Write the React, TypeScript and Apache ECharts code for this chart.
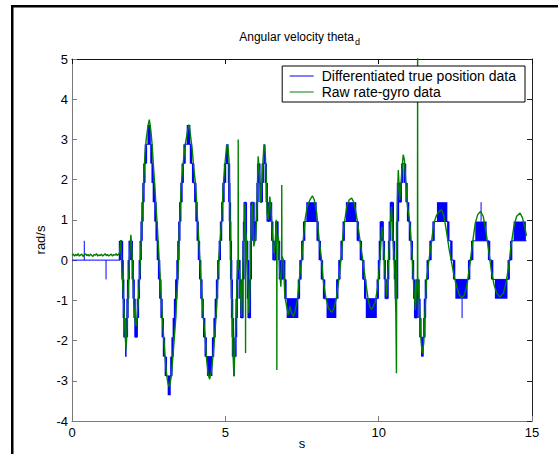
import React, { useEffect, useRef } from "react";
import * as echarts from "echarts";

// ---------- data ----------
const xTickValues = [0, 5, 10, 15];
const yTickValues = [-4, -3, -2, -1, 0, 1, 2, 3, 4, 5];
const titleMain = "Angular velocity theta";
const titleSub = "d";
const xName = "s";
const yName = "rad/s";
const seriesNames = ["Differentiated true position data", "Raw rate-gyro data"];

// Blue: quantized staircase, [time, level] — level holds until next time
const blueSteps: number[][] = [
  [0, 0], [1.565, 0.48], [1.63, 0], [1.65, -0.48], [1.67, -0.96], [1.69, -1.44], [1.71, -1.92],
  [1.79, -1.44], [1.81, -0.96], [1.83, -0.48], [1.85, 0], [1.88, 0.48], [1.95, 0], [1.98, -0.48],
  [2.01, -0.96], [2.04, -1.44], [2.07, -1.92], [2.11, -1.44], [2.15, -0.96], [2.18, -0.48], [2.21, 0],
  [2.24, 0.48], [2.27, 0.96], [2.3, 1.44], [2.33, 1.92], [2.36, 2.4], [2.41, 2.88],
  [2.59, 2.4], [2.63, 1.92], [2.67, 1.44], [2.72, 0.96], [2.76, 0.48], [2.8, 0], [2.84, -0.48],
  [2.88, -0.96], [2.92, -1.44], [2.96, -1.92], [3.0, -2.4], [3.06, -2.88],
  [3.24, -2.4], [3.28, -1.92], [3.32, -1.44], [3.36, -0.96], [3.4, -0.48], [3.44, 0], [3.47, 0.48],
  [3.5, 0.96], [3.53, 1.44], [3.57, 1.92], [3.61, 2.4], [3.67, 2.88],
  [3.88, 2.4], [3.95, 1.92], [4.02, 1.44], [4.06, 0.96], [4.1, 0.48], [4.14, 0], [4.18, -0.48],
  [4.22, -0.96], [4.26, -1.44], [4.31, -1.92], [4.36, -2.4],
  [4.6, -1.92], [4.65, -1.44], [4.69, -0.96], [4.73, -0.48], [4.77, 0], [4.82, 0.48], [4.86, 0.96],
  [4.9, 1.44], [4.94, 1.92], [4.99, 2.4],
  [5.12, 1.92], [5.13, 1.44], [5.15, 0.96], [5.16, 0.48], [5.18, 0], [5.19, -0.48], [5.21, -0.96],
  [5.22, -1.44], [5.24, -1.92], [5.25, -2.4],
  [5.33, -1.92], [5.35, -1.44], [5.37, -0.96], [5.39, -0.48], [5.41, 0],
  [5.46, -0.48], [5.49, -0.96], [5.52, -1.44], [5.56, -0.48], [5.59, 0.48], [5.61, 0.96], [5.63, 1.44],
  [5.67, 0.48], [5.71, 0], [5.74, -0.96], [5.76, -1.44], [5.8, -0.48], [5.83, 0.48], [5.85, 1.44],
  [5.92, 0.48], [5.98, 0.96], [6.03, 1.44], [6.05, 1.92], [6.07, 2.4], [6.11, 1.92], [6.15, 1.44],
  [6.19, 1.92], [6.22, 2.4], [6.32, 1.92], [6.35, 1.44], [6.38, 0.96], [6.44, 1.44], [6.49, 0.96],
  [6.53, 0.48], [6.57, 0], [6.64, 0.48], [6.66, 0.96], [6.7, 0.48], [6.75, 0], [6.78, -0.48],
  [6.86, 0], [6.92, -0.48], [6.96, -0.96],
  [7.4, -0.48], [7.45, 0], [7.51, 0.48], [7.57, 0.96],
  [8.01, 0.48], [8.08, 0], [8.15, -0.48], [8.22, -0.96],
  [8.65, -0.48], [8.72, 0], [8.79, 0.48], [8.86, 0.96],
  [9.32, 0.48], [9.42, 0], [9.5, -0.48], [9.56, -0.96],
  [9.97, -0.48], [10.01, 0], [10.04, 0.48], [10.07, 0.96], [10.13, 0.48], [10.17, 0], [10.2, -0.48],
  [10.23, -0.96], [10.29, -0.48], [10.31, 0], [10.34, 0.48], [10.36, 0.96], [10.4, 1.44], [10.46, 0.48],
  [10.5, 0], [10.53, -0.48], [10.56, -0.96], [10.6, 0.96], [10.63, 1.92], [10.68, 1.44], [10.72, 1.92],
  [10.77, 2.4], [10.86, 1.92], [10.91, 1.44], [10.96, 0.96], [11.02, 0.48], [11.08, 0], [11.12, -0.48],
  [11.16, -0.96], [11.19, -1.44], [11.24, -0.48], [11.3, -0.96], [11.33, -1.44], [11.36, -1.92],
  [11.49, -1.44], [11.51, -0.96], [11.54, -0.48], [11.6, 0], [11.69, 0.48], [11.79, 0.96],
  [12.27, 0.48], [12.37, 0], [12.46, -0.48],
  [12.95, 0], [13.05, 0.48],
  [13.6, 0], [13.7, -0.48],
  [14.24, 0], [14.32, 0.48],
];
const blueEnd = 14.82;

// Blue dithering blocks: [t start, t end, low level, high level]
const blueBlocks: number[][] = [
  [1.73, 1.78, -2.4, -1.92], [2.46, 2.57, 2.88, 3.36], [3.12, 3.22, -3.36, -2.88],
  [3.74, 3.86, 2.88, 3.36], [4.4, 4.58, -2.88, -2.4], [5.02, 5.1, 2.4, 2.88],
  [5.26, 5.31, -2.88, -2.4], [6.24, 6.3, 2.4, 2.88],
  [7.0, 7.38, -1.44, -0.96], [7.64, 7.98, 0.96, 1.44], [8.3, 8.62, -1.44, -0.96],
  [8.93, 9.27, 0.96, 1.44], [9.58, 9.94, -1.44, -0.96], [11.38, 11.47, -2.4, -1.92],
  [11.9, 12.24, 0.96, 1.44], [12.5, 12.9, -0.96, -0.48], [13.15, 13.52, 0.48, 0.96],
  [13.79, 14.2, -0.96, -0.48], [14.4, 14.8, 0.48, 0.96],
];

// Blue single-sample spikes: [time, from, to]
const blueSpikes: number[][] = [
  [0.4, 0, 0.48], [1.11, 0, -0.48], [12.72, -0.96, -1.44], [13.34, 0.96, 1.44],
];

// Green: rate-gyro signal [time, rad/s]
const greenPts: number[][] = [
  [0, 0.12], [0.04, 0.15], [0.08, 0.1], [0.12, 0.14], [0.16, 0.11], [0.2, 0.16], [0.24, 0.1],
  [0.28, 0.13], [0.32, 0.15], [0.36, 0.09], [0.4, 0.13], [0.44, 0.16], [0.48, 0.11], [0.52, 0.14],
  [0.56, 0.1], [0.6, 0.15], [0.64, 0.12], [0.68, 0.09], [0.72, 0.14], [0.76, 0.12], [0.8, 0.16],
  [0.84, 0.1], [0.88, 0.13], [0.92, 0.11], [0.96, 0.15], [1.0, 0.1], [1.04, 0.13], [1.08, 0.16],
  [1.12, 0.11], [1.16, 0.14], [1.2, 0.1], [1.24, 0.13], [1.28, 0.15], [1.32, 0.1], [1.36, 0.14],
  [1.4, 0.12], [1.44, 0.16], [1.48, 0.11], [1.52, 0.15], [1.55, 0.17],
  [1.59, 0.5], [1.63, -0.3], [1.67, -0.82], [1.71, -1.5], [1.73, -1.82], [1.76, -2.23], [1.78, -2.0],
  [1.8, -1.49], [1.84, -0.6], [1.87, 0.0], [1.92, 0.63], [1.95, 0.3], [1.97, 0.0], [2.0, -0.7],
  [2.02, -1.15], [2.06, -1.5], [2.09, -1.65], [2.13, -1.32], [2.17, -0.9], [2.2, -0.49], [2.24, 0.2],
  [2.27, 0.75], [2.3, 1.3], [2.33, 1.83], [2.38, 2.66], [2.42, 3.0], [2.46, 3.24], [2.5, 3.42],
  [2.52, 3.49], [2.55, 3.35], [2.58, 3.16], [2.62, 2.8], [2.65, 2.41], [2.7, 1.85], [2.74, 1.33],
  [2.79, 0.75], [2.83, 0.17], [2.87, -0.35], [2.9, -0.82], [2.94, -1.35], [2.98, -1.82], [3.02, -2.25],
  [3.05, -2.56], [3.08, -2.8], [3.11, -2.98], [3.14, -3.1], [3.17, -3.14], [3.2, -3.05], [3.24, -2.89],
  [3.27, -2.6], [3.3, -2.31], [3.34, -1.9], [3.38, -1.49], [3.41, -1.0], [3.45, -0.49], [3.48, 0.15],
  [3.5, 0.75], [3.53, 1.3], [3.56, 1.83], [3.61, 2.3], [3.65, 2.58], [3.7, 2.9], [3.74, 3.08],
  [3.78, 3.28], [3.81, 3.37], [3.84, 3.25], [3.88, 3.0], [3.92, 2.75], [3.97, 2.3], [4.02, 1.95],
  [4.06, 1.5], [4.09, 1.05], [4.12, 0.7], [4.17, 0.01], [4.23, -0.82], [4.28, -1.4], [4.34, -1.9],
  [4.39, -2.48], [4.44, -2.85], [4.49, -2.96], [4.55, -2.73], [4.61, -2.31], [4.66, -1.82],
  [4.72, -1.15], [4.77, -0.16], [4.83, 0.5], [4.88, 1.0], [4.93, 1.83], [4.99, 2.41], [5.04, 2.83],
  [5.08, 2.87], [5.12, 2.49], [5.15, 1.17], [5.18, 0.01], [5.22, -1.32], [5.25, -2.31], [5.28, -2.89],
  [5.31, -2.31], [5.36, -1.15], [5.4, 0.01], [5.415, -0.1], [5.42, 3.0], [5.425, -0.2], [5.46, -0.24],
  [5.5, -0.82], [5.53, -1.4], [5.56, -0.49], [5.61, 0.75], [5.64, 1.42], [5.655, 0.9], [5.66, -2.31],
  [5.665, 0.7], [5.69, 0.5], [5.72, -0.24], [5.77, -1.32], [5.81, -0.49], [5.86, 1.33], [5.89, 1.42],
  [5.93, 0.34], [5.99, 0.59], [6.03, 1.25], [6.07, 2.58], [6.12, 2.08], [6.16, 1.42], [6.21, 2.25],
  [6.25, 2.74], [6.29, 2.87], [6.33, 2.16], [6.36, 1.17], [6.4, 1.0], [6.45, 1.58], [6.49, 1.25],
  [6.53, 0.75], [6.58, 0.17], [6.62, 0.34], [6.66, 1.0], [6.675, 0.6], [6.68, -2.73], [6.685, 0.5],
  [6.73, 0.59], [6.77, -0.24], [6.81, -0.66], [6.835, -0.3], [6.84, 1.87], [6.845, 0.1], [6.89, 0.01],
  [6.94, -0.9], [7.0, -1.15], [7.05, -1.36], [7.11, -1.15], [7.16, -1.32], [7.22, -1.4], [7.27, -1.28],
  [7.35, -0.99], [7.41, -0.49], [7.49, 0.01], [7.54, 0.5], [7.6, 1.0], [7.67, 1.33], [7.76, 1.5],
  [7.84, 1.6], [7.9, 1.5], [7.98, 1.17], [8.06, 0.5], [8.14, 0.01], [8.19, -0.49], [8.27, -0.9],
  [8.36, -1.19], [8.47, -1.3], [8.55, -1.19], [8.63, -0.9], [8.7, -0.49], [8.77, 0.01], [8.85, 0.75],
  [8.96, 1.33], [9.04, 1.5], [9.12, 1.54], [9.2, 1.42], [9.3, 1.0], [9.39, 0.5], [9.48, 0.01],
  [9.58, -0.55], [9.66, -1.0], [9.72, -1.18], [9.77, -1.22], [9.83, -1.15], [9.88, -1.07], [9.97, -0.66],
  [10.04, 0.0], [10.1, 0.83], [10.15, 0.5], [10.21, -0.33], [10.26, -0.91], [10.31, -0.16], [10.37, 0.83],
  [10.42, 1.33], [10.48, 0.34], [10.53, -0.33], [10.56, -1.32], [10.58, -2.81], [10.59, 0.5],
  [10.61, 1.5], [10.64, 2.24], [10.69, 1.5], [10.75, 2.16], [10.8, 2.62], [10.84, 2.49], [10.88, 1.99],
  [10.94, 1.33], [10.99, 1.08], [11.04, 0.67], [11.1, 0.0], [11.15, -0.74], [11.2, -1.24], [11.25, -0.49],
  [11.265, -0.6], [11.27, 5.5], [11.275, -0.4], [11.29, -0.41], [11.34, -1.32], [11.38, -1.99],
  [11.42, -2.32], [11.47, -2.07], [11.51, -1.32], [11.56, -0.49], [11.64, 0.0], [11.73, 0.5],
  [11.8, 0.92], [11.89, 1.12], [11.98, 1.22], [12.05, 1.25], [12.13, 1.09], [12.22, 0.67], [12.3, 0.26],
  [12.38, -0.07], [12.46, -0.4], [12.54, -0.65], [12.63, -0.86], [12.72, -0.94], [12.8, -0.86],
  [12.89, -0.57], [12.98, -0.07], [13.06, 0.42], [13.15, 0.92], [13.23, 1.13], [13.32, 1.21],
  [13.41, 1.09], [13.5, 0.71], [13.59, 0.22], [13.67, -0.24], [13.76, -0.61], [13.85, -0.82],
  [13.96, -0.92], [14.07, -0.82], [14.15, -0.57], [14.24, -0.16], [14.32, 0.38], [14.41, 0.84],
  [14.5, 1.09], [14.61, 1.17], [14.69, 1.05], [14.78, 0.76], [14.82, 0.6],
];

const FONT = "'Liberation Sans', Arial, sans-serif";
const BLUE = "#0000ff";
const GREEN = "#008000";

export default function App() {
  const ref = useRef<HTMLDivElement>(null);

  useEffect(() => {
    if (!ref.current) return;
    const chart = echarts.init(ref.current, undefined, { renderer: "svg" });

    const stepSegments = blueSteps.map((p, i) => {
      const next = blueSteps[i + 1];
      return next ? [p[0], next[0], p[1], next[1]] : [p[0], blueEnd, p[1], p[1]];
    });

    const option: any = {
      animation: false,
      backgroundColor: "#ffffff",
      textStyle: { fontFamily: FONT },
      grid: { left: 72, right: 26, top: 59, bottom: 33, containLabel: false, outerBoundsMode: "none" },
      xAxis: [
        {
          type: "value",
          position: "bottom",
          min: xTickValues[0],
          max: xTickValues[xTickValues.length - 1],
          interval: 5,
          splitLine: { show: false },
          name: xName,
          nameLocation: "middle",
          nameGap: 16,
          nameMoveOverlap: false,
          nameTextStyle: { color: "#000", fontSize: 13, fontFamily: FONT },
          axisLine: { onZero: false, lineStyle: { color: "#7a7a7a", width: 1 } },
          axisTick: { inside: true, length: 5, lineStyle: { color: "#7a7a7a" } },
          axisLabel: { color: "#000", fontSize: 13, fontFamily: FONT, margin: 5 },
        },
        {
          type: "value",
          position: "top",
          min: xTickValues[0],
          max: xTickValues[xTickValues.length - 1],
          interval: 5,
          splitLine: { show: false },
          axisLine: { onZero: false, lineStyle: { color: "#111", width: 1 } },
          axisTick: { inside: true, length: 5, lineStyle: { color: "#111" } },
          axisLabel: { show: false },
        },
      ],
      yAxis: [
        {
          type: "value",
          position: "left",
          min: yTickValues[0],
          max: yTickValues[yTickValues.length - 1],
          interval: 1,
          splitLine: { show: false },
          name: yName,
          nameLocation: "middle",
          nameGap: 25,
          nameMoveOverlap: false,
          nameTextStyle: { color: "#000", fontSize: 13, fontFamily: FONT },
          axisLine: { onZero: false, lineStyle: { color: "#7a7a7a", width: 1 } },
          axisTick: { inside: true, length: 5, lineStyle: { color: "#7a7a7a" } },
          axisLabel: { color: "#000", fontSize: 13, fontFamily: FONT, margin: 4 },
        },
        {
          type: "value",
          position: "right",
          min: yTickValues[0],
          max: yTickValues[yTickValues.length - 1],
          interval: 1,
          splitLine: { show: false },
          axisLine: { onZero: false, lineStyle: { color: "#222", width: 1 } },
          axisTick: { inside: true, length: 5, lineStyle: { color: "#222" } },
          axisLabel: { show: false },
        },
      ],
      legend: {
        data: seriesNames,
        orient: "vertical",
        right: 33,
        top: 66,
        padding: [3, 9, 3, 7],
        itemGap: 2,
        itemWidth: 24,
        itemHeight: 14,
        borderColor: "#000",
        borderWidth: 1,
        borderRadius: 0,
        backgroundColor: "#fff",
        itemStyle: { opacity: 0, borderWidth: 0 },
        lineStyle: { width: 1, opacity: 1 },
        textStyle: { color: "#000", fontSize: 14, fontFamily: FONT, padding: [0, 0, 0, 3] },
      },
      graphic: [
        { type: "rect", shape: { x: 11, y: 5, width: 547, height: 2.5 }, style: { fill: "#000" }, z: 10 },
        { type: "rect", shape: { x: 11, y: 5, width: 2.5, height: 449 }, style: { fill: "#000" }, z: 10 },
        {
          type: "text",
          x: 354,
          y: 37,
          style: { text: titleMain, fill: "#000", font: `12px ${FONT}`, align: "right", verticalAlign: "middle" },
        },
        {
          type: "text",
          x: 355,
          y: 42,
          style: { text: titleSub, fill: "#000", font: `9px ${FONT}`, align: "left", verticalAlign: "middle" },
        },
      ],
      series: [
        {
          name: seriesNames[0],
          type: "line",
          data: [],
          symbol: "none",
          color: BLUE,
          lineStyle: { color: BLUE, width: 1 },
        },
        {
          name: "blue-blocks",
          type: "custom",
          clip: true,
          silent: true,
          encode: { x: [0, 1], y: [2, 3] },
          data: blueBlocks,
          renderItem: (_p: any, api: any) => {
            const a = api.coord([api.value(0), api.value(3)]);
            const b = api.coord([api.value(1), api.value(2)]);
            return {
              type: "rect",
              shape: { x: a[0], y: a[1], width: b[0] - a[0], height: b[1] - a[1] },
              style: { fill: BLUE },
            };
          },
        },
        {
          name: "blue-steps",
          type: "custom",
          clip: true,
          silent: true,
          encode: { x: [0, 1], y: [2, 3] },
          data: stepSegments,
          renderItem: (_p: any, api: any) => {
            const p0 = api.coord([api.value(0), api.value(2)]);
            const p1 = api.coord([api.value(1), api.value(2)]);
            const p2 = api.coord([api.value(1), api.value(3)]);
            const w = 2.4;
            return {
              type: "group",
              children: [
                {
                  type: "line",
                  shape: { x1: p0[0], y1: p0[1], x2: p1[0], y2: p1[1] },
                  style: { stroke: BLUE, lineWidth: 1 },
                },
                {
                  type: "rect",
                  shape: { x: p1[0] - w / 2, y: Math.min(p1[1], p2[1]), width: w, height: Math.abs(p2[1] - p1[1]) },
                  style: { fill: BLUE },
                },
              ],
            };
          },
        },
        {
          name: "blue-spikes",
          type: "custom",
          clip: true,
          silent: true,
          encode: { x: 0, y: [1, 2] },
          data: blueSpikes,
          renderItem: (_p: any, api: any) => {
            const a = api.coord([api.value(0), api.value(1)]);
            const b = api.coord([api.value(0), api.value(2)]);
            return {
              type: "line",
              shape: { x1: a[0], y1: a[1], x2: b[0], y2: b[1] },
              style: { stroke: BLUE, lineWidth: 1 },
            };
          },
        },
        {
          name: seriesNames[1],
          type: "line",
          data: greenPts,
          symbol: "none",
          showSymbol: false,
          clip: true,
          color: GREEN,
          lineStyle: { color: GREEN, width: 1.4 },
        },
      ],
    };

    chart.setOption(option);
    return () => chart.dispose();
  }, []);

  return (
    <div
      ref={ref}
      style={{ position: "fixed", left: 0, top: 0, width: 558, height: 454, background: "#fff" }}
    />
  );
}
